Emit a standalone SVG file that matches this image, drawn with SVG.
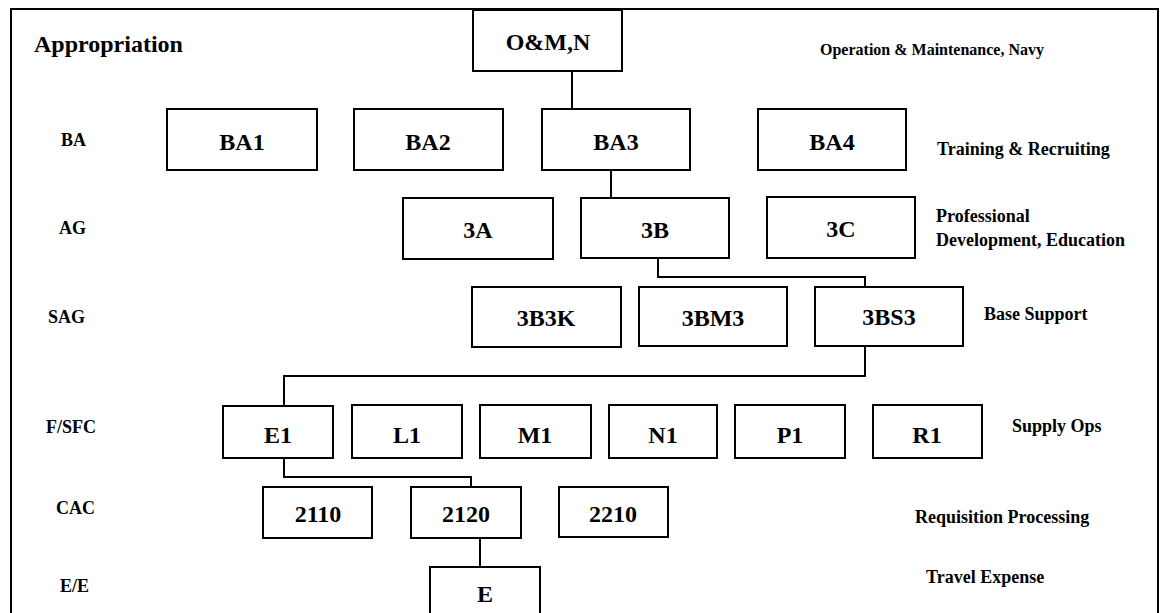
<svg xmlns="http://www.w3.org/2000/svg" width="1160" height="613" viewBox="0 0 1160 613">
<style>
  .box { fill: #fff; stroke: #000; stroke-width: 2; }
  .nt { font-family: "Liberation Serif", "Times New Roman", serif; font-weight: bold; font-size: 24px; text-anchor: middle; fill: #000; }
  .lab { font-family: "Liberation Serif", "Times New Roman", serif; font-weight: bold; font-size: 18px; fill: #000; }
  .conn { fill: none; stroke: #000; stroke-width: 2; }
</style>
<rect x="0" y="0" width="1160" height="613" fill="#fff"/>
<rect x="11" y="9" width="1147" height="620" fill="none" stroke="#000" stroke-width="2"/>

<g id="level-labels">
  <text class="lab" x="34" y="52" style="font-size:24px">Appropriation</text>
  <text class="lab" x="61" y="146">BA</text>
  <text class="lab" x="59" y="234">AG</text>
  <text class="lab" x="48" y="323">SAG</text>
  <text class="lab" x="46" y="433">F/SFC</text>
  <text class="lab" x="56" y="514">CAC</text>
  <text class="lab" x="60" y="592">E/E</text>
</g>

<g id="descriptions">
  <text class="lab" x="820" y="55" style="font-size:16px">Operation &amp; Maintenance, Navy</text>
  <text class="lab" x="937" y="155">Training &amp; Recruiting</text>
  <text class="lab" x="936" y="222">Professional</text>
  <text class="lab" x="936" y="246">Development, Education</text>
  <text class="lab" x="984" y="320">Base Support</text>
  <text class="lab" x="1012" y="432">Supply Ops</text>
  <text class="lab" x="915" y="523">Requisition Processing</text>
  <text class="lab" x="926" y="583">Travel Expense</text>
</g>

<g id="connectors">
  <path class="conn" d="M572 71 V109"/>
  <path class="conn" d="M611 170 V198"/>
  <path class="conn" d="M658 258 V277 H865 V287"/>
  <path class="conn" d="M865 346 V376 H284 V406"/>
  <path class="conn" d="M284 458 V477 H471 V487"/>
  <path class="conn" d="M480 538 V567"/>
</g>

<g id="node-omn"><rect class="box" x="473" y="10" width="149" height="61"/><text class="nt" x="548" y="50">O&amp;M,N</text></g>

<g id="node-ba1"><rect class="box" x="167" y="109" width="150" height="61"/><text class="nt" x="242" y="150">BA1</text></g>
<g id="node-ba2"><rect class="box" x="354" y="109" width="149" height="61"/><text class="nt" x="428" y="150">BA2</text></g>
<g id="node-ba3"><rect class="box" x="542" y="109" width="148" height="61"/><text class="nt" x="616" y="150">BA3</text></g>
<g id="node-ba4"><rect class="box" x="758" y="109" width="148" height="61"/><text class="nt" x="832" y="150">BA4</text></g>

<g id="node-3a"><rect class="box" x="403" y="198" width="150" height="61"/><text class="nt" x="478" y="238">3A</text></g>
<g id="node-3b"><rect class="box" x="581" y="198" width="148" height="60"/><text class="nt" x="655" y="238">3B</text></g>
<g id="node-3c"><rect class="box" x="767" y="197" width="148" height="61"/><text class="nt" x="841" y="237">3C</text></g>

<g id="node-3b3k"><rect class="box" x="472" y="287" width="149" height="60"/><text class="nt" x="546" y="326">3B3K</text></g>
<g id="node-3bm3"><rect class="box" x="639" y="287" width="148" height="59"/><text class="nt" x="713" y="326">3BM3</text></g>
<g id="node-3bs3"><rect class="box" x="815" y="287" width="148" height="59"/><text class="nt" x="889" y="325">3BS3</text></g>

<g id="node-e1"><rect class="box" x="223" y="406" width="110" height="52"/><text class="nt" x="278" y="443">E1</text></g>
<g id="node-l1"><rect class="box" x="352" y="405" width="110" height="53"/><text class="nt" x="407" y="443">L1</text></g>
<g id="node-m1"><rect class="box" x="480" y="405" width="111" height="53"/><text class="nt" x="535" y="443">M1</text></g>
<g id="node-n1"><rect class="box" x="609" y="405" width="108" height="53"/><text class="nt" x="663" y="443">N1</text></g>
<g id="node-p1"><rect class="box" x="735" y="405" width="110" height="53"/><text class="nt" x="790" y="443">P1</text></g>
<g id="node-r1"><rect class="box" x="873" y="405" width="109" height="53"/><text class="nt" x="927" y="443">R1</text></g>

<g id="node-2110"><rect class="box" x="263" y="487" width="109" height="51"/><text class="nt" x="318" y="522">2110</text></g>
<g id="node-2120"><rect class="box" x="411" y="487" width="110" height="51"/><text class="nt" x="466" y="522">2120</text></g>
<g id="node-2210"><rect class="box" x="559" y="487" width="109" height="50"/><text class="nt" x="613" y="522">2210</text></g>

<g id="node-e"><rect class="box" x="430" y="567" width="110" height="60"/><text class="nt" x="485" y="602">E</text></g>
</svg>
